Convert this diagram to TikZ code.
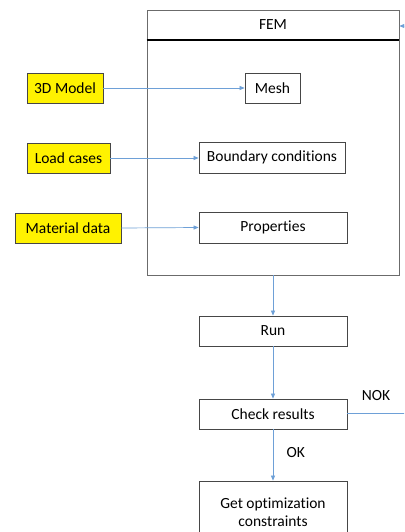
\documentclass[tikz,border=0pt]{standalone}
\usepackage{fontspec}
\setmainfont{Carlito}[Ligatures={NoCommon}]
\usetikzlibrary{arrows.meta,positioning}
\definecolor{flow}{RGB}{110,160,215}
\definecolor{edge}{RGB}{70,70,70}
\tikzset{
  box/.style={draw=edge, line width=0.8pt, fill=white, inner sep=0pt, minimum height=30pt, font=\fontsize{15.5}{18}\selectfont},
  inputbox/.style={box, fill=yellow},
  link/.style={draw=flow, line width=0.7pt, -{Triangle[length=5pt,width=4pt]}},
  wire/.style={draw=flow, line width=0.7pt},
  lbl/.style={font=\fontsize{15.5}{18}\selectfont}
}
\begin{document}
\begin{tikzpicture}[x=1pt,y=-1pt]
\clip (0,0) rectangle (404,532);
\fill[white] (0,0) rectangle (404,532);

% FEM container with its title bar
\node[draw=edge!80, line width=0.8pt, minimum width=252pt, minimum height=265pt, inner sep=0pt] (fem) at (273,142.5) {};
\node[lbl] (femtitle) at (273,25) {FEM};
\draw[black, line width=1.3pt] (fem.west |- 0,40) -- (fem.east |- 0,40);

% FEM stages
\node[box, minimum width=55pt] (mesh) at (272.5,88) {Mesh};
\node[box, minimum width=146pt, minimum height=31pt] (bc) at (272,157.5) {Boundary conditions};
\node[box, minimum width=148pt, minimum height=31pt] (prop) at (273,227.5) {Properties};

% Inputs
\node[inputbox, minimum width=76pt, minimum height=30pt] (model) at (65,88) {3D Model};
\node[inputbox, minimum width=83pt, minimum height=30pt] (load) at (68.5,158) {Load cases};
\node[inputbox, minimum width=106pt, minimum height=30pt] (mat) at (68,228) {Material data};

\draw[link] (model) -- (mesh);
\draw[link] (load.east) -- (bc.west |- load.east);
\draw[link] (mat.east) -- (prop.west);

% Solver chain
\node[box, minimum width=148pt] (run) at (273,331) {Run};
\node[box, minimum width=148pt] (check) at (273,414) {Check results};
\node[box, minimum width=148pt, minimum height=62pt, align=center] (get) at (273,512) {Get optimization\\constraints};

\draw[link] (fem.south -| run.north) -- (run.north);
\draw[link] (run) -- (check);
\draw[link] (check) -- node[lbl, right=10pt, pos=0.45] (ok) {OK} (get.north);

% Feedback loop
\coordinate (loopout) at (410,413);
\coordinate (loopin) at (410,26);
\draw[wire] (check.east |- loopout) -- (loopout);
\node[lbl] (nok) at (376,396) {NOK};
\draw[link] (loopin) -- (loopin -| fem.east);
\end{tikzpicture}
\end{document}
